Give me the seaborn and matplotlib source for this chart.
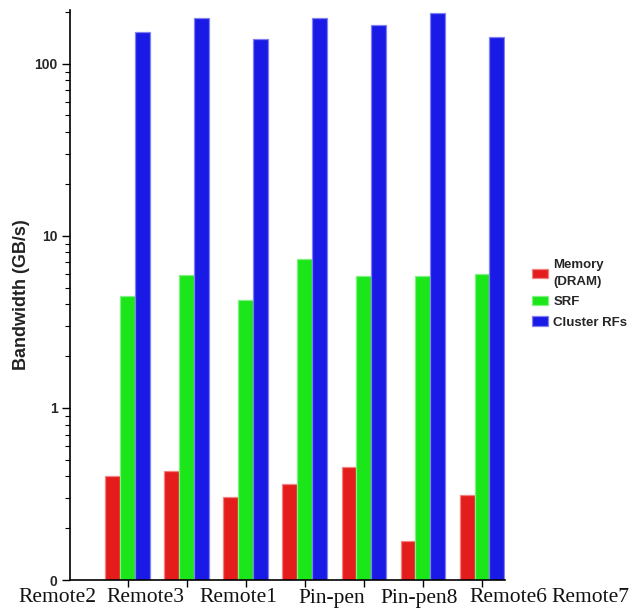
import numpy as np
import pandas as pd
import matplotlib
matplotlib.use("Agg")
import matplotlib.pyplot as plt
import matplotlib.colors as mcolors
from matplotlib.ticker import LogLocator, FixedLocator, FixedFormatter, NullFormatter
import seaborn as sns

# Applications and measured bandwidth per storage level (GB/s)
apps = ["Remote2", "Remote3", "Remote1", "Pin-pen", "Pin-pen8", "Remote6", "Remote7"]
levels = ["Memory\n(DRAM)", "SRF", "Cluster RFs"]
dram = [0.40, 0.43, 0.305, 0.36, 0.455, 0.169, 0.31]
srf = [4.45, 5.95, 4.25, 7.3, 5.8, 5.8, 6.0]
cluster_rf = [152, 184, 139, 184, 167, 198, 143]
colors = ["#E41C1C", "#1AE61A", "#1A1AE6"]

df = pd.DataFrame({
    "app": apps * 3,
    "level": [levels[0]] * 7 + [levels[1]] * 7 + [levels[2]] * 7,
    "bw": dram + srf + cluster_rf,
})

sns.set_theme(style="white")
plt.rcParams["font.family"] = ["Liberation Sans", "DejaVu Sans"]

fig = plt.figure(figsize=(6.41, 6.09), dpi=100)
ax = fig.add_axes([70 / 641, 1 - 580 / 609, 435 / 641, 570 / 609])
ax.set_yscale("log")

sns.barplot(data=df, x="app", y="bw", hue="level", order=apps, hue_order=levels,
            palette=colors, saturation=1, width=0.76, ax=ax, legend=True)

# Slightly lighter outline on every bar
for bar in ax.patches:
    fc = np.array(mcolors.to_rgb(bar.get_facecolor()))
    bar.set_edgecolor(tuple(fc + (1 - fc) * 0.45))
    bar.set_linewidth(0.9)

ax.set_ylim(0.1, 205)
ax.set_xlim(-0.98, 6.39)

# Y axis: decades with minor ticks; the bottom decade is printed as "0"
ax.yaxis.set_major_locator(FixedLocator([0.1, 1, 10, 100]))
ax.yaxis.set_major_formatter(FixedFormatter(["0", "1", "10", "100"]))
ax.yaxis.set_minor_locator(LogLocator(base=10, subs=np.arange(2, 10), numticks=20))
ax.yaxis.set_minor_formatter(NullFormatter())
ax.tick_params(axis="y", which="major", direction="out", length=6, width=1,
               color="black", left=True, labelsize=10, pad=3)
ax.tick_params(axis="y", which="minor", direction="out", length=3.5, width=0.8,
               color="black", left=True)
for lab in ax.get_yticklabels():
    lab.set_fontweight("bold")

# X axis: tick marks at group centres, names printed beneath the axis
ax.set_xticks(range(len(apps)))
ax.set_xticklabels([""] * len(apps))
ax.tick_params(axis="x", which="major", direction="out", length=5, width=1,
               color="black", bottom=True)
ax.set_xlabel("")
label_x = [57, 145, 238, 332, 419, 508, 590]
for name, px in zip(apps, label_x):
    fig.text(px / 641, 1 - 598 / 609, name, ha="center", va="center",
             fontsize=15.5, family=["Liberation Serif", "DejaVu Serif"], color="#111111")

ax.set_ylabel("")
fig.text(22 / 641, 1 - 295 / 609, "Bandwidth (GB/s)", rotation=90, ha="center",
         va="center", fontsize=13, fontweight="bold", color="#222222")

for side in ["top", "right"]:
    ax.spines[side].set_visible(False)
for side in ["left", "bottom"]:
    ax.spines[side].set_color("black")
    ax.spines[side].set_linewidth(1.2)

handles, labs = ax.get_legend_handles_labels()
leg = ax.legend(handles, labs, loc="center left", bbox_to_anchor=(527 / 641, 1 - 294 / 609),
                bbox_transform=fig.transFigure, frameon=False,
                prop={"weight": "bold", "size": 9.5}, handlelength=1.2, handleheight=0.7,
                handletextpad=0.4, labelspacing=0.62, borderaxespad=0)
for t in leg.get_texts():
    t.set_linespacing(1.5)

fig.savefig("out.png", dpi=100)
